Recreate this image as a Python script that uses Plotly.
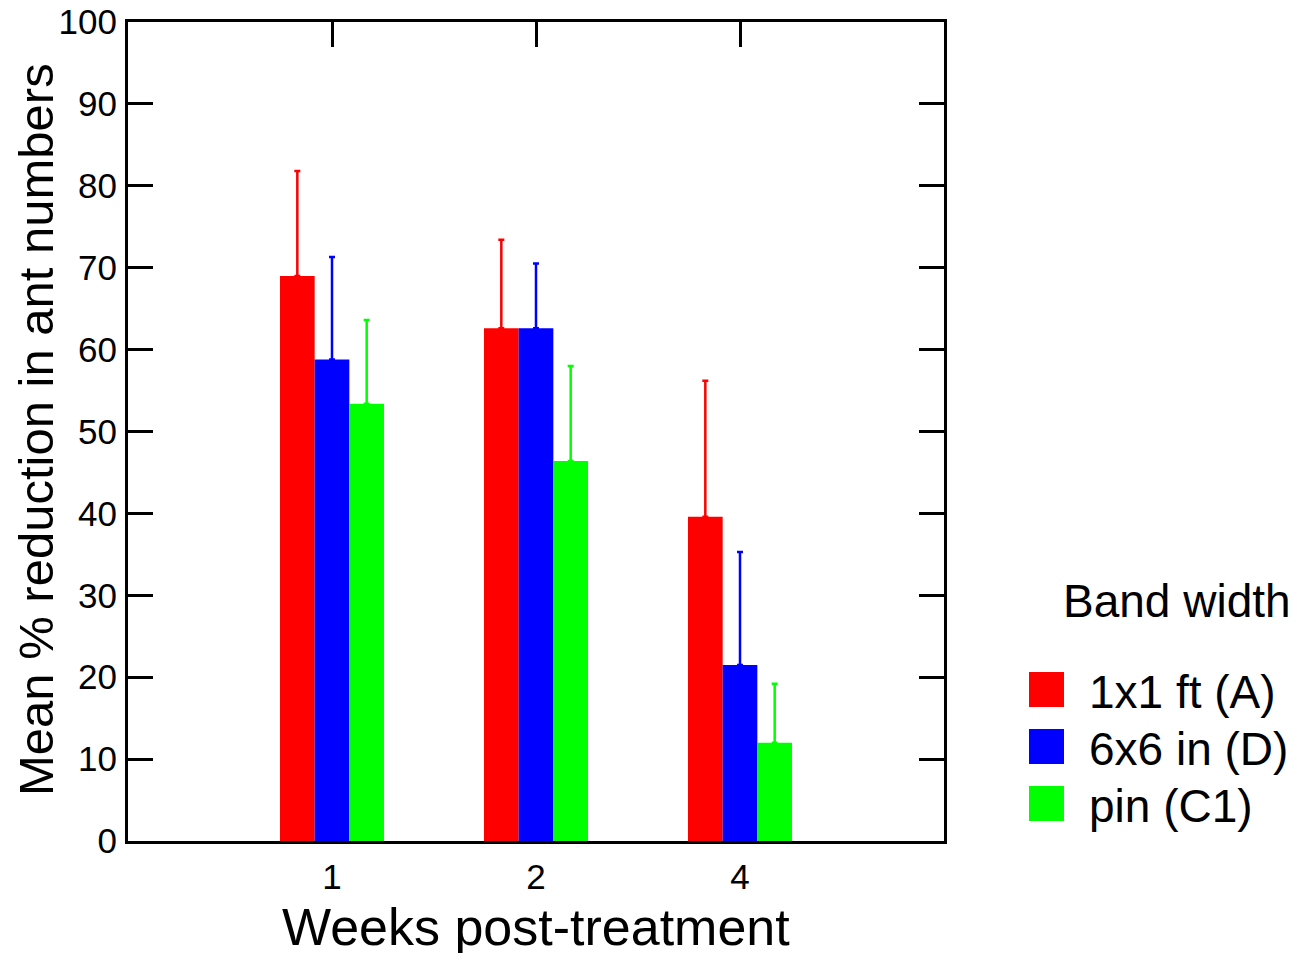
import plotly.graph_objects as go

weeks = ["1", "2", "4"]
series_names = ["1x1 ft (A)", "6x6 in (D)", "pin (C1)"]
series_colors = ["#FF0000", "#0000FF", "#00FF00"]
mean_1x1 = [69.0, 62.6, 39.6]
err_1x1 = [12.8, 10.8, 16.6]
mean_6x6 = [58.8, 62.6, 21.5]
err_6x6 = [12.5, 7.9, 13.8]
mean_pin = [53.4, 46.4, 12.0]
err_pin = [10.2, 11.6, 7.2]
y_ticks = list(range(0, 101, 10))

means = [mean_1x1, mean_6x6, mean_pin]
errs = [err_1x1, err_6x6, err_pin]

# page body has an 8px margin; figure sized to fill the rest of the window
OFF = 8
FIG_W, FIG_H = 1301 - OFF, 953 - OFF
# plot area in window pixels
L, R, T, B = 128, 944, 22, 841
W, H = R - L, B - T
def px(x):
    return (x - L) / W
def py(y):
    return (B - y) / H

FONT = "'Liberation Sans', Arial, sans-serif"

fig = go.Figure()
for name, color, m, e in zip(series_names, series_colors, means, errs):
    fig.add_trace(go.Bar(
        x=weeks, y=m, name=name,
        marker=dict(color=color, line=dict(width=0)),
        error_y=dict(type="data", array=e, symmetric=False, arrayminus=[0]*len(e),
                     color=color, thickness=2.5, width=3),
        showlegend=False,
    ))

fig.update_layout(
    template="none",
    width=FIG_W, height=FIG_H,
    margin=dict(l=L - OFF, r=1301 - R, t=T - OFF, b=953 - B, pad=0),
    paper_bgcolor="white", plot_bgcolor="white",
    barmode="group", bargap=0.49, bargroupgap=0,
    font=dict(family=FONT, color="black"),
    showlegend=False,
)
fig.update_xaxes(
    type="category", categoryorder="array", categoryarray=weeks,
    range=[-1, 3], showgrid=False, zeroline=False, automargin=False,
    showline=True, linecolor="black", linewidth=3, mirror="ticks",
    ticks="inside", ticklen=25, tickwidth=3, tickcolor="black",
    tickfont=dict(size=35, family=FONT, color="black"), ticklabelstandoff=3,
    ticklabeloverflow="allow", layer="below traces",
)
fig.update_yaxes(
    range=[0, 100], tickvals=y_ticks, ticktext=[str(v) for v in y_ticks],
    showgrid=False, zeroline=False, automargin=False,
    showline=True, linecolor="black", linewidth=3, mirror="ticks",
    ticks="inside", ticklen=25, tickwidth=3, tickcolor="black",
    tickfont=dict(size=35, family=FONT, color="black"), ticklabelstandoff=1,
    ticklabeloverflow="allow", layer="below traces",
)

# axis titles
fig.add_annotation(text="Mean % reduction in ant numbers", xref="paper", yref="paper",
                   x=px(36), y=py(430), xanchor="center", yanchor="middle", textangle=-90,
                   showarrow=False, font=dict(size=49, family=FONT, color="black"))
fig.add_annotation(text="Weeks post-treatment", xref="paper", yref="paper",
                   x=px(536), y=py(896), xanchor="center", yanchor="top",
                   showarrow=False, font=dict(size=52, family=FONT, color="black"))

# manual legend
fig.add_annotation(text="Band width", xref="paper", yref="paper",
                   x=px(1061), y=py(601), xanchor="left", yanchor="middle",
                   showarrow=False, font=dict(size=46, family=FONT, color="black"))
sw_top = [672, 729, 786]
for name, color, top in zip(series_names, series_colors, sw_top):
    fig.add_shape(type="rect", xref="paper", yref="paper",
                  x0=px(1029), x1=px(1064), y0=py(top + 35), y1=py(top),
                  fillcolor=color, line=dict(width=0))
    fig.add_annotation(text=name, xref="paper", yref="paper",
                       x=px(1087), y=py(top + 20), xanchor="left", yanchor="middle",
                       showarrow=False, font=dict(size=46, family=FONT, color="black"))

fig.write_html("out.html")
